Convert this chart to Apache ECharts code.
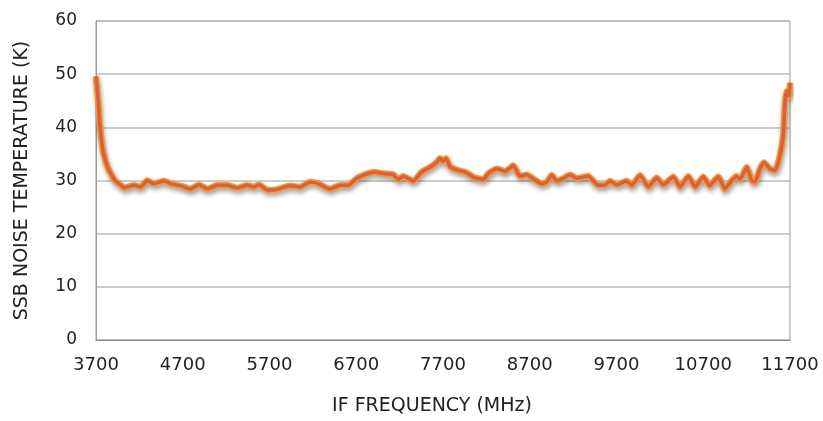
<!DOCTYPE html>
<html>
<head>
<meta charset="utf-8">
<script src="https://cdn.jsdelivr.net/npm/echarts@6/dist/echarts.min.js"></script>
<style>html,body{margin:0;padding:0;background:#fff}#c{width:823px;height:421px}</style>
</head>
<body>
<div id="c"></div>
<script>
// IF frequency (MHz) and SSB noise temperature (K)
var freqMHz = [3700,3727,3746,3784,3842,3919,3996,4023,4138,4215,4291,4369,4484,4561,4676,4792,4887,4983,5098,5214,5329,5444,5521,5579,5675,5752,5821,5936,6052,6167,6262,6397,6513,6608,6705,6801,6896,7012,7127,7185,7242,7358,7454,7550,7627,7665,7703,7734,7781,7876,7954,8069,8165,8222,8319,8415,8510,8587,8665,8760,8837,8895,8953,9011,9087,9164,9241,9375,9490,9567,9625,9702,9817,9875,9971,10066,10163,10239,10355,10432,10528,10605,10701,10772,10873,10950,11028,11085,11123,11201,11258,11296,11354,11400,11469,11527,11576,11622,11642,11661,11691,11700];
var noiseK = [49.6,44.6,40.1,35.3,32.2,30.0,29.0,28.6,29.1,28.8,30.0,29.4,29.9,29.4,29.0,28.4,29.2,28.4,29.1,29.1,28.6,29.1,28.8,29.2,28.2,28.2,28.5,29.0,28.8,29.7,29.4,28.4,29.1,29.1,30.4,31.1,31.6,31.3,31.1,30.2,30.8,29.9,31.6,32.5,33.4,34.2,33.6,34.2,32.6,31.9,31.6,30.5,30.2,31.3,32.2,31.7,32.8,30.8,31.1,30.1,29.4,29.7,31.0,29.9,30.4,31.1,30.4,30.8,29.1,29.1,29.9,29.2,29.9,29.1,31.0,28.8,30.5,29.2,30.7,28.8,30.8,28.8,30.7,29.0,30.7,28.4,30.0,30.8,30.2,32.5,30.0,29.7,32.2,33.4,32.2,31.9,34.1,38.5,44.6,46.8,45.9,48.4];
var xTicks = {min: 3700, max: 11700, step: 1000};
var yTicks = {min: 0, max: 60, step: 10};

var pts = freqMHz.map(function (f, i) { return [f, noiseK[i]]; });
var chart = echarts.init(document.getElementById('c'), null, {renderer: 'canvas'});
var font = 'DejaVu Sans, Verdana, sans-serif';
chart.setOption({
  animation: false,
  backgroundColor: '#ffffff',
  grid: {left: 96, right: 33, top: 21, bottom: 78, show: true, borderColor: '#999', borderWidth: 1},
  xAxis: {
    type: 'value', min: xTicks.min, max: xTicks.max, interval: xTicks.step,
    name: 'IF FREQUENCY (MHz)', nameLocation: 'middle', nameGap: 57,
    nameTextStyle: {fontFamily: font, fontSize: 19, color: '#222', padding: [0, 22, 0, 0]},
    axisLine: {show: true, lineStyle: {color: '#888', width: 1}},
    axisTick: {show: false},
    splitLine: {show: false},
    axisLabel: {fontFamily: font, fontSize: 18, color: '#222', margin: 16,
      formatter: function (v) { return String(v); }}
  },
  yAxis: {
    type: 'value', min: yTicks.min, max: yTicks.max, interval: yTicks.step,
    name: 'SSB NOISE TEMPERATURE (K)', nameLocation: 'middle', nameGap: 64,
    nameTextStyle: {fontFamily: font, fontSize: 19, color: '#222'},
    axisLine: {show: true, lineStyle: {color: '#999', width: 1}},
    axisTick: {show: false},
    splitLine: {show: true, lineStyle: {color: '#bbb', width: 1.5}},
    axisLabel: {fontFamily: font, fontSize: 17, color: '#222', margin: 19, padding: [3, 0, 0, 0]}
  },
  series: [
    {
      type: 'line', data: pts, showSymbol: false, smooth: 0.15, silent: true,
      lineStyle: {color: '#F29A36', width: 6.5, shadowColor: 'rgba(0,0,0,0.35)', shadowBlur: 4, shadowOffsetX: 1, shadowOffsetY: 3}
    },
    {
      type: 'line', data: pts, showSymbol: false, smooth: 0.15, silent: true,
      lineStyle: {color: '#D9603F', width: 3.5}
    }
  ]
});
</script>
</body>
</html>
